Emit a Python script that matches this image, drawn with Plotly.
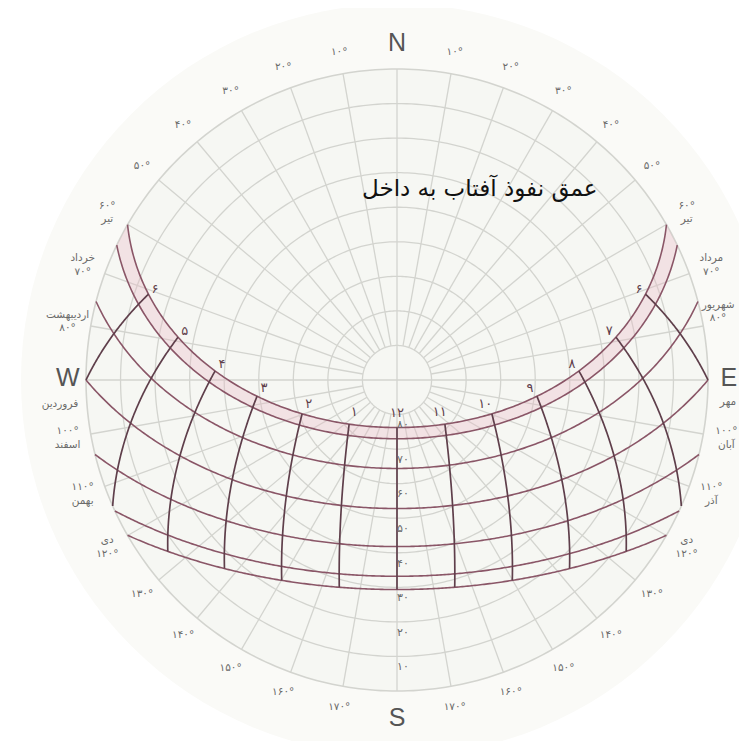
import numpy as np
import plotly.graph_objects as go

# ---------------- data ----------------
latitude = 37.2
declinations = [23.44, 20.2, 11.6, 0.0, -11.0, -19.6, -23.44]
months_west = ["تیر", "خرداد", "اردیبهشت", "فروردین", "اسفند", "بهمن", "دی"]
months_east = ["تیر", "مرداد", "شهریور", "مهر", "آبان", "آذر", "دی"]
hours = [6, 7, 8, 9, 10, 11, 12, 13, 14, 15, 16, 17, 18]
hour_labels = ["۶", "۷", "۸", "۹", "۱۰", "۱۱", "۱۲", "۱", "۲", "۳", "۴", "۵", "۶"]
altitude_ticks = [80, 70, 60, 50, 40, 30, 20, 10]
altitude_labels = ["۸۰", "۷۰", "۶۰", "۵۰", "۴۰", "۳۰", "۲۰", "۱۰"]
azimuth_ticks = [10, 20, 30, 40, 50, 60, 70, 80, 100, 110, 120, 130, 140, 150, 160, 170]
azimuth_labels = ["۱۰°", "۲۰°", "۳۰°", "۴۰°", "۵۰°", "۶۰°", "۷۰°", "۸۰°",
                  "۱۰۰°", "۱۱۰°", "۱۲۰°", "۱۳۰°", "۱۴۰°", "۱۵۰°", "۱۶۰°", "۱۷۰°"]
compass_az = [0, 90, 180, 270]
compass_labels = ["N", "E", "S", "W"]
month_label_az = [60, 70, 80, 90, 100, 110, 120]
title_text = "عمق نفوذ آفتاب به داخل"

# ---------------- styles ----------------
GRID = "#d3d4cf"
BG = "#f6f7f3"
DATE_COL = "#8a5667"
HOUR_COL = "#5f3f4b"
LABEL_COL = "#6a6a6a"
FA_FONT = "DejaVu Sans"
GRID_W = 1.3
R_MAX = 98.5

# page geometry (the page body has an 8px margin)
OFF = 8
W, H = 747 - 2 * OFF, 749 - 2 * OFF


def px(x):
    return (x - OFF) / W


def py(y):
    return 1 - (y - OFF) / H


def sun_position(h_deg, d_deg, lat_deg):
    h, d, p = np.radians(h_deg), np.radians(d_deg), np.radians(lat_deg)
    s = np.sin(p) * np.sin(d) + np.cos(p) * np.cos(d) * np.cos(h)
    alt = np.degrees(np.arcsin(np.clip(s, -1, 1)))
    az = 180 + np.degrees(np.arctan2(np.sin(h), np.cos(h) * np.sin(p) - np.tan(d) * np.cos(p)))
    return np.maximum(alt, 0), np.mod(az, 360)


def line_trace(r, theta, color, width, **kw):
    return go.Scatterpolar(r=r, theta=theta, mode="lines", line=dict(color=color, width=width),
                           hoverinfo="skip", connectgaps=False, **kw)


fig = go.Figure()
circ = list(np.linspace(0, 360, 361))

# horizon disk
fig.add_trace(line_trace([90] * len(circ), circ, GRID, 1.6, fill="toself", fillcolor=BG))

# altitude circles
cr, ct = [], []
for z in [90 - a for a in altitude_ticks]:
    cr += [z] * len(circ) + [None]
    ct += circ + [None]
fig.add_trace(line_trace(cr, ct, GRID, GRID_W))

# azimuth lines every 10 degrees from the 80° circle to the horizon
rr, rt = [], []
for a in range(0, 360, 10):
    rr += [10, 90, None]
    rt += [a, a, None]
fig.add_trace(line_trace(rr, rt, GRID, GRID_W))
# central cross
fig.add_trace(line_trace([10, 0, 10, None, 10, 0, 10], [0, 0, 180, None, 90, 90, 270], GRID, GRID_W))

# sun-path date curves
curves = []
for d in declinations:
    h0 = np.degrees(np.arccos(np.clip(-np.tan(np.radians(latitude)) * np.tan(np.radians(d)), -1, 1)))
    hh = np.linspace(-h0, h0, 301)
    alt, az = sun_position(hh, d, latitude)
    curves.append((90 - alt, az))

# light pink band between the two summer curves
r1, t1 = curves[0]
r2, t2 = curves[1]
fig.add_trace(go.Scatterpolar(r=np.concatenate([r1, r2[::-1]]), theta=np.concatenate([t1, t2[::-1]]),
                              mode="lines", fill="toself", fillcolor="rgba(232,185,195,0.32)",
                              line=dict(width=0), hoverinfo="skip"))

for r, t in curves:
    fig.add_trace(line_trace(r, t, DATE_COL, 1.6))

# hour lines
for h in hours:
    ha = (h - 12) * 15.0
    d0 = np.degrees(np.arctan(-np.cos(np.radians(ha)) / np.tan(np.radians(latitude))))
    dmin = max(min(declinations), d0)
    dd = np.linspace(dmin, max(declinations), 120)
    alt, az = sun_position(ha, dd, latitude)
    fig.add_trace(line_trace(90 - alt, az, HOUR_COL, 1.7))

# hour labels just above the summer-solstice end of each hour line
ha_all = (np.array(hours) - 12) * 15.0
alt_l, az_l = sun_position(ha_all, max(declinations), latitude)
fig.add_trace(go.Scatterpolar(r=90 - alt_l - 2.0, theta=az_l, mode="text", text=hour_labels,
                              textposition="top center",
                              textfont=dict(family=FA_FONT, size=13, color=HOUR_COL), hoverinfo="skip"))

# altitude labels on the south meridian
fig.add_trace(go.Scatterpolar(r=[90 - a + 3.2 for a in altitude_ticks], theta=[180] * len(altitude_ticks),
                              mode="text", text=altitude_labels, textposition="middle right",
                              textfont=dict(family=FA_FONT, size=11, color=LABEL_COL), hoverinfo="skip"))

# azimuth labels both sides (month names attached at the sunrise / sunset directions)
az_r, az_t, az_txt = [], [], []
for a, lab in zip(azimuth_ticks, azimuth_labels):
    for side in (1, -1):
        theta = a if side == 1 else 360 - a
        rad = 96.3
        if a in month_label_az:
            i = month_label_az.index(a)
            name = months_east[i] if side == 1 else months_west[i]
            txt = (name + "<br>" + lab) if a in (70, 80, 120) else (lab + "<br>" + name)
            rad = 96.8
            if side == 1 and a == 80:
                theta, rad = 78.0, 95.0
        else:
            txt = lab
        az_r.append(rad)
        az_t.append(theta)
        az_txt.append(txt)
fig.add_trace(go.Scatterpolar(r=az_r, theta=az_t, mode="text", text=az_txt,
                              textposition="middle center",
                              textfont=dict(family=FA_FONT, size=10.5, color=LABEL_COL), hoverinfo="skip"))

# compass letters
fig.add_trace(go.Scatterpolar(r=[97, 96.0, 98.3, 95.3], theta=compass_az, mode="text", text=compass_labels,
                              textposition="middle center",
                              textfont=dict(family="Liberation Sans", size=25, color="#555555"),
                              hoverinfo="skip"))
# equinox month names under E / W
fig.add_trace(go.Scatterpolar(r=[96.0, 97.8], theta=[93.8, 265.8], mode="text",
                              text=[months_east[3], months_west[3]],
                              textposition="middle center",
                              textfont=dict(family=FA_FONT, size=10.5, color=LABEL_COL), hoverinfo="skip"))

RPX = 311 * R_MAX / 90
cx, cy = 397, 380
fig.update_layout(
    width=W, height=H,
    margin=dict(l=0, r=0, t=0, b=0),
    paper_bgcolor="#ffffff",
    showlegend=False,
    shapes=[dict(type="circle", xref="paper", yref="paper",
                 x0=px(cx - 376), x1=px(cx + 376),
                 y0=py(cy + 376), y1=py(cy - 376),
                 fillcolor="#fafaf7", line=dict(width=0), layer="below")],
    polar=dict(
        domain=dict(x=[px(cx - RPX), min(1.0, px(cx + RPX))],
                    y=[py(cy + RPX), py(cy - RPX)]),
        bgcolor="rgba(0,0,0,0)",
        radialaxis=dict(range=[0, R_MAX], showgrid=False, showticklabels=False, ticks="", showline=False),
        angularaxis=dict(rotation=90, direction="clockwise", showgrid=False,
                         showticklabels=False, ticks="", showline=False),
    ),
    annotations=[dict(text=title_text, x=px(480), y=py(172), xref="paper", yref="paper",
                      showarrow=False, font=dict(family=FA_FONT, size=23, color="#111111"))],
)

fig.write_html("out.html")
